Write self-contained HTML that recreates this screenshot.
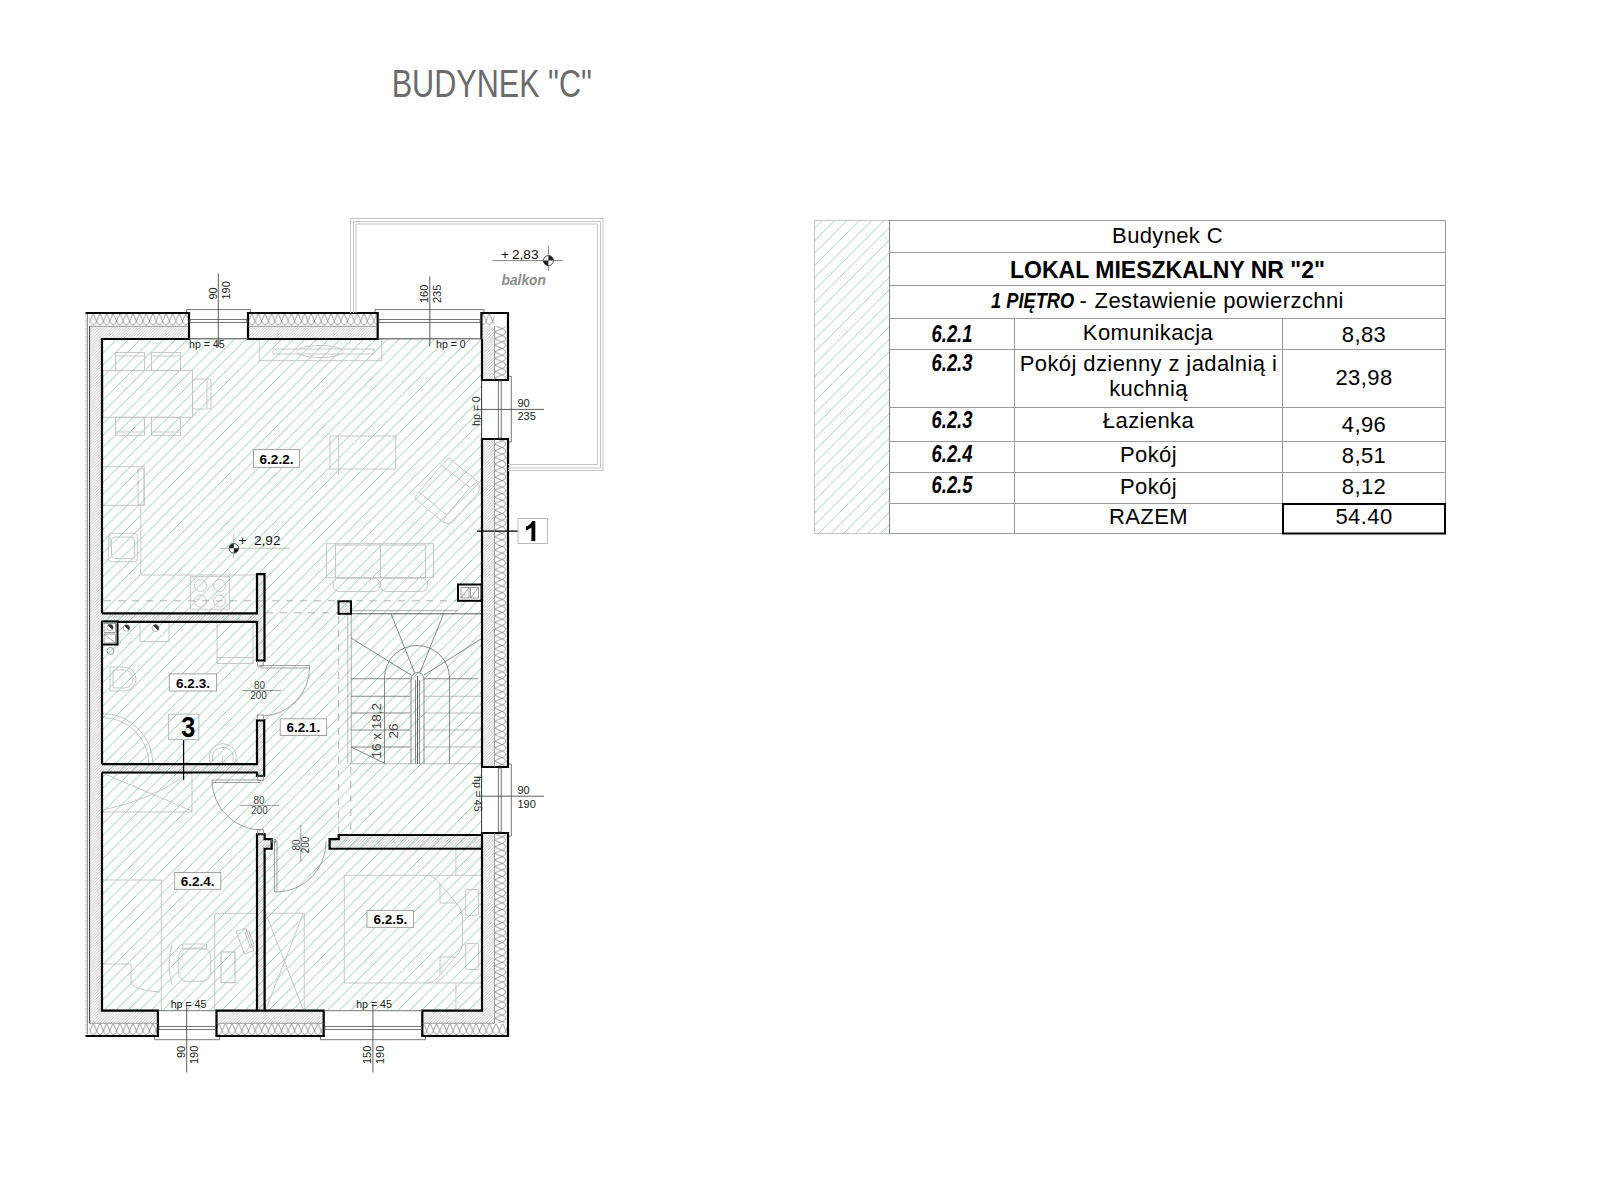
<!DOCTYPE html>
<html><head><meta charset="utf-8">
<style>
html,body{margin:0;padding:0;background:#fff;width:1600px;height:1200px;overflow:hidden}
svg{position:absolute;left:0;top:0;display:block}
text{font-family:"Liberation Sans",sans-serif}
</style></head>
<body>
<svg width="1600" height="1200" viewBox="0 0 1600 1200">
<defs>
<pattern id="hg" patternUnits="userSpaceOnUse" x="9.5" y="0" width="11.755" height="11.755">
<path d="M-1,12.755 L12.755,-1 M-1,1 L1,-1 M10.755,12.755 L12.755,10.755" stroke="#80c89d" stroke-width="0.85" fill="none"/>
</pattern>
<pattern id="hw" patternUnits="userSpaceOnUse" width="2.8" height="2.8">
<path d="M-0.5,3.3 L3.3,-0.5 M-0.5,0.5 L0.5,-0.5 M2.3,3.3 L3.3,2.3" stroke="#999" stroke-width="0.55" fill="none"/>
</pattern>
<pattern id="ht" patternUnits="userSpaceOnUse" x="3.8" y="0" width="12.37" height="12.37">
<path d="M-1,13.37 L13.37,-1 M-1,1 L1,-1 M11.37,13.37 L13.37,11.37" stroke="#86cca2" stroke-width="0.8" fill="none"/>
</pattern>






<pattern id="ins-h" patternUnits="userSpaceOnUse" x="1" y="313.8" width="6.6" height="12.4"><path d="M-6.60,-0.5 L-2.51,9.18 Q0.00,13.00 2.51,9.18 L6.60,-0.5 M0.00,-0.5 L4.09,9.18 Q6.60,13.00 9.11,9.18 L13.20,-0.5" stroke="#707070" stroke-width="0.7" fill="none"/></pattern>
<pattern id="ins-h2" patternUnits="userSpaceOnUse" x="1" y="1023.6" width="6.6" height="12.2"><path d="M-6.60,-0.5 L-2.51,9.03 Q0.00,12.80 2.51,9.03 L6.60,-0.5 M0.00,-0.5 L4.09,9.03 Q6.60,12.80 9.11,9.03 L13.20,-0.5" stroke="#707070" stroke-width="0.7" fill="none"/></pattern>
<pattern id="ins-v" patternUnits="userSpaceOnUse" x="494.8" y="2" width="12.3" height="6.6"><g transform="translate(0,6.6) rotate(-90)"><path d="M-6.60,-0.5 L-2.51,9.10 Q0.00,12.90 2.51,9.10 L6.60,-0.5 M0.00,-0.5 L4.09,9.10 Q6.60,12.90 9.11,9.10 L13.20,-0.5" stroke="#707070" stroke-width="0.7" fill="none"/></g></pattern>
</defs>

<!-- Title -->
<text x="0" y="0" font-size="38.5" fill="#6b6b6b" transform="translate(391.7,96.6) scale(0.795,1)">BUDYNEK "C"</text>

<!-- TABLE -->
<g id="table">
<rect x="815" y="220.5" width="74.5" height="313" fill="url(#ht)"/>
<g stroke="#9a9a9a" stroke-width="1" fill="none">
<path d="M889.5,220.5 H1445.5 V533.5 H889.5"/>
<path d="M889.5,220.5 H814.5 V533.5 H889.5" stroke="#c4c4c4"/>
<line x1="889.5" y1="220" x2="889.5" y2="534" stroke="#808080"/>
<line x1="889" y1="252.5" x2="1446" y2="252.5"/>
<line x1="889" y1="285.5" x2="1446" y2="285.5"/>
<line x1="889" y1="318.5" x2="1446" y2="318.5"/>
<line x1="889" y1="349.5" x2="1446" y2="349.5"/>
<line x1="889" y1="407.5" x2="1446" y2="407.5"/>
<line x1="889" y1="441.5" x2="1446" y2="441.5"/>
<line x1="889" y1="472.5" x2="1446" y2="472.5"/>
<line x1="889" y1="503.5" x2="1446" y2="503.5"/>
<line x1="1014.5" y1="318" x2="1014.5" y2="534"/>
<line x1="1282.5" y1="318" x2="1282.5" y2="534"/>
</g>
<rect x="1283" y="504" width="162" height="29.5" fill="none" stroke="#000" stroke-width="2"/>
<g font-size="22" fill="#000" text-anchor="middle" letter-spacing="0.4">
<text x="1167.5" y="242.5" letter-spacing="0.35">Budynek C</text>
<text x="1167.5" y="277.5" font-weight="bold" font-size="23" letter-spacing="0">LOKAL MIESZKALNY NR "2"</text>
<text x="1148" y="340">Komunikacja</text>
<text x="1148.5" y="370.5">Pokój dzienny z jadalnią i</text>
<text x="1148.5" y="396.3">kuchnią</text>
<text x="1148.5" y="428">Łazienka</text>
<text x="1148.5" y="462.3">Pokój</text>
<text x="1148.5" y="493.8">Pokój</text>
<text x="1148.5" y="524.3">RAZEM</text>
<text x="1364" y="342">8,83</text>
<text x="1364" y="385">23,98</text>
<text x="1364" y="431.5">4,96</text>
<text x="1364" y="463">8,51</text>
<text x="1364" y="493.8">8,12</text>
<text x="1364" y="524.3">54.40</text>
</g>
<g font-size="22" fill="#000">
<text transform="translate(991,307.75) scale(0.83,1)" font-weight="bold" font-style="italic">1 PIĘTRO</text>
<text x="1079.5" y="307.75">-</text>
<text x="1094.6" y="307.75" letter-spacing="0.42">Zestawienie powierzchni</text>
</g>
<g font-size="23" fill="#000" font-weight="bold" font-style="italic" text-anchor="middle">
<text transform="translate(952,342) scale(0.8,1)">6.2.1</text>
<text transform="translate(952,370.5) scale(0.8,1)">6.2.3</text>
<text transform="translate(952,428) scale(0.8,1)">6.2.3</text>
<text transform="translate(952,462.3) scale(0.8,1)">6.2.4</text>
<text transform="translate(952,492.8) scale(0.8,1)">6.2.5</text>
</g>
</g>

<!-- PLAN -->
<g id="plan">
<!-- building mass with wall hatch -->
<rect x="86" y="313" width="422" height="723" fill="#fff"/>
<rect x="89.5" y="313" width="418.5" height="723" fill="url(#hw)"/>
<!-- interior floor -->
<rect x="102" y="339" width="380" height="671.7" fill="#fff"/>
<rect x="102" y="339" width="380" height="671.7" fill="url(#hg)"/>
<!-- DASHED LINES -->
<g stroke="#a0a0a0" stroke-width="0.8" fill="none" stroke-dasharray="7,7">
<line x1="104" y1="600.8" x2="458" y2="600.8"/>
<line x1="266" y1="612.8" x2="338" y2="612.8"/>
<line x1="338.6" y1="616" x2="338.6" y2="834"/>
<line x1="350.8" y1="767" x2="350.8" y2="834"/>
</g>

<!-- FURNITURE light -->
<g stroke="#c2c2c2" stroke-width="0.9" fill="none">
<!-- dining -->
<rect x="103" y="370.6" width="89.5" height="46.7"/>
<rect x="115.5" y="352.5" width="29" height="18"/><line x1="116" y1="356" x2="144" y2="356"/>
<rect x="151.5" y="352.5" width="29" height="18"/><line x1="152" y1="356" x2="180" y2="356"/>
<rect x="115.5" y="417.3" width="29" height="18"/><line x1="116" y1="432" x2="144" y2="432"/>
<rect x="151.5" y="417.3" width="29" height="18"/><line x1="152" y1="432" x2="180" y2="432"/>
<rect x="192.5" y="379" width="18.5" height="30" rx="2"/><line x1="207" y1="380" x2="207" y2="408"/>
<!-- sideboard / TV -->
<rect x="259.3" y="339.7" width="122.5" height="21"/>
<rect x="273" y="349" width="101" height="5"/>
<ellipse cx="320" cy="351.5" rx="23" ry="6"/>
<!-- coffee table -->
<rect x="330" y="436" width="65.8" height="33"/>
<line x1="338.6" y1="436" x2="338.6" y2="475"/>
<!-- armchair rotated -->
<path d="M419,492 L441.5,465 L470,487.5 L446.7,515 Z"/>
<path d="M441.5,465 L449,458 L477.5,481.5 L470,487.5"/>
<path d="M419,492 L414.5,498 L443,522 L446.7,515"/>
<path d="M477.5,481.5 Q481,487 478,493 L452,522.5 Q448,525 443,522"/>
<!-- sofa -->
<rect x="326.5" y="543.7" width="107" height="34"/>
<rect x="335.5" y="545" width="45" height="33"/>
<rect x="380.5" y="545" width="45" height="33"/>
<rect x="333" y="578" width="47" height="13.5" rx="6"/>
<rect x="380.5" y="578" width="47" height="13.5" rx="6"/>
<!-- kitchen -->
<rect x="102.5" y="466.7" width="41.7" height="38.6"/>
<rect x="138" y="469" width="6" height="36"/>
<polyline points="140.8,505.3 140.8,575 255.8,575"/>
<rect x="108.3" y="533.3" width="29.2" height="28.4" rx="3"/>
<rect x="111.5" y="537" width="23" height="21.5" rx="3"/>
<line x1="110" y1="534" x2="110" y2="545"/>
<rect x="190.3" y="576.7" width="39.2" height="32.5"/>
<circle cx="200.5" cy="585.5" r="6"/><circle cx="219.5" cy="585.5" r="6"/>
<circle cx="200.5" cy="601" r="6"/><circle cx="219.5" cy="601" r="6"/>
<!-- bathroom -->
<rect x="217" y="622" width="36" height="41.5"/>
<line x1="217" y1="657.5" x2="253" y2="657.5"/>
<rect x="140" y="622.5" width="29" height="19"/>
<path d="M110,667 H124 A12,12 0 0 1 124,691 H110 Z"/>
<path d="M113,670 H124 A9,9 0 0 1 124,688 H113 Z"/>
<path d="M102,713.5 A51,51 0 0 1 153,764"/>
<path d="M102,717.5 A47,47 0 0 1 149,764"/>
<path d="M209.5,764 V755 A13.3,11.3 0 0 1 236.1,755 V764"/><path d="M212.5,762 V756 A10.3,8.5 0 0 1 233.1,756 V762"/><path d="M222.7,756 V764 M219,762 H226.5"/>
<rect x="120" y="634" width="11" height="9" stroke-dasharray="1.5,1.5"/>
<!-- 6.2.4 -->
<rect x="102.5" y="773.5" width="89.5" height="38.5"/>
<path d="M105,774 L192,811 M103,810 Q150,800 183,777"/>
<rect x="102.5" y="880" width="58.8" height="130"/>
<path d="M103,964 H131 V983 Q134,990 160,992"/>
<rect x="214.7" y="913.3" width="42" height="97"/>
<rect x="178.7" y="948" width="32" height="33.3" rx="8"/>
<rect x="182.7" y="944" width="24" height="5" rx="1"/>
<path d="M172,945 Q166,965 172,985"/>
<rect x="221" y="952" width="14" height="30.7" stroke="#b0b0b0"/>
<g transform="translate(245,941) rotate(-20)"><rect x="-5" y="-12" width="10" height="24"/><rect x="3" y="-8" width="4" height="16"/></g>
<!-- 6.2.5 -->
<path d="M344.3,875.3 H427 Q434,875.5 440,884 L456,903 Q462.5,910 462.5,918 V942 Q462.5,950 456,956 L440,975 Q434,983 427,983 H344.3 Z"/>
<path d="M427,875.3 H482 M427,983 H482"/>
<path d="M440,884 V903 H456 M440,975 V957 H456"/>
<rect x="465.6" y="889.4" width="13" height="26" rx="1.5"/>
<rect x="465.6" y="943.5" width="13" height="26" rx="1.5"/>
<line x1="455.9" y1="848.5" x2="455.9" y2="875.3"/>
<line x1="455.9" y1="983" x2="455.9" y2="1010"/>
<rect x="265.5" y="913.2" width="38.7" height="97"/>
<path d="M266,914 L303,1009 M303,914 L266,1009"/>
</g>

<!-- STAIRS -->
<g stroke="#6a6a6a" stroke-width="0.8" fill="none">
<line x1="351" y1="613.8" x2="481" y2="613.8" stroke="#333"/>
<line x1="351" y1="610.6" x2="458" y2="610.6" stroke="#999"/>
<line x1="347.8" y1="613.8" x2="347.8" y2="763.75" stroke="#aaa"/>
<line x1="351.3" y1="613.8" x2="351.3" y2="763.75" stroke="#999"/>
<line x1="348.75" y1="763.75" x2="481" y2="763.75" stroke="#aaa"/>
<line x1="351" y1="678.75" x2="410" y2="678.75"/>
<line x1="351" y1="696.25" x2="410" y2="696.25"/>
<line x1="351" y1="713" x2="410" y2="713"/>
<line x1="351" y1="730" x2="410" y2="730"/>
<line x1="351" y1="747" x2="410" y2="747"/>
<line x1="424" y1="678.75" x2="478" y2="678.75"/>
<line x1="424" y1="696.25" x2="481" y2="696.25" stroke="#aaa"/>
<line x1="424" y1="713" x2="481" y2="713" stroke="#aaa"/>
<line x1="424" y1="730" x2="481" y2="730" stroke="#aaa"/>
<line x1="424" y1="747" x2="481" y2="747" stroke="#aaa"/>
<path d="M384.5,763.75 V678 A32.5,32.5 0 0 1 449.5,678 V763.75"/>
<path d="M411,763.75 V679 A6.5,6.5 0 0 1 424,679 V763.75"/>
<line x1="415.5" y1="680" x2="415.5" y2="763.75"/>
<line x1="419.5" y1="680" x2="419.5" y2="763.75"/>
<line x1="417.5" y1="676" x2="417.5" y2="763.75" stroke="#333"/>
<line x1="351" y1="638" x2="411" y2="675"/>
<line x1="391" y1="613.8" x2="414.5" y2="672.5"/>
<line x1="443.5" y1="613.8" x2="420" y2="672.5"/>
<line x1="481" y1="639" x2="424" y2="675"/>
<path d="M351,747 L384,763"/>
</g>
<!-- insulation bands -->
<rect x="89.5" y="313" width="418.5" height="13.3" fill="#fff"/>
<rect x="89.5" y="313" width="418.5" height="13.3" fill="url(#ins-h)"/>
<rect x="494.5" y="313" width="13.5" height="723" fill="#fff"/>
<rect x="494.5" y="326" width="13.5" height="697" fill="url(#ins-v)"/>
<rect x="89.5" y="1023.3" width="418.5" height="12.7" fill="#fff"/>
<rect x="89.5" y="1023.3" width="418.5" height="12.7" fill="url(#ins-h2)"/>
<!-- window openings -->
<g fill="#fff">
<rect x="189" y="305" width="59" height="34"/>
<rect x="377.7" y="305" width="103.7" height="34"/>
<rect x="482" y="380" width="35" height="59"/>
<rect x="482" y="767" width="35" height="66"/>
<rect x="157.9" y="1010.7" width="58.6" height="34"/>
<rect x="323.7" y="1010.7" width="98.6" height="34"/>
</g>
<!-- interior walls -->
<g fill="url(#hw)" stroke="#000" stroke-width="2.2" stroke-linejoin="miter">
<path d="M102,613.3 H257 V574.2 H264.5 V660.7 H257 V621.8 H102"/>
<path d="M102,764.2 H257 V720.3 H264.2 V775.8 H257 V772.5 H102"/>
<path d="M257,1010.7 V834.2 H264.6 V839.2 H271.7 V848.75 H264.6 V1010.7"/>
<path d="M482,835 H338.75 V839.2 H329.6 V848.75 H482"/>
</g>
<!-- exterior outlines -->
<g fill="none" stroke="#000" stroke-width="2.2" stroke-linejoin="miter">
<path d="M85.5,313 H189 V339 H102 V613.3"/>
<path d="M102,621.8 V764.2 M102,772.5 V1010.7 H157.9 V1036 H85.5"/>
<path d="M248,339 V313 H377.7 V339 Z"/>
<path d="M481.4,339 V313 H508 V380 H482 V339"/>
<path d="M482,439 H508 V767 H482 Z"/>
<path d="M482,833 H508 V1036 H422.3 V1010.7 H482 Z"/>
<path d="M216.5,1010.7 H323.7 V1036 H216.5 Z"/>
</g>
<!-- left party wall thin lines -->
<g fill="none">
<line x1="87.3" y1="314" x2="87.3" y2="1034" stroke="#555" stroke-width="0.8"/>
<line x1="89.6" y1="326" x2="89.6" y2="1023.5" stroke="#222" stroke-width="0.9"/>
</g>
<line x1="85.8" y1="314" x2="85.8" y2="1035" stroke="#bbb" stroke-width="0.8" stroke-dasharray="1,1"/>

<!-- WINDOW FRAMES -->
<g stroke="#555" stroke-width="0.8" fill="none">
<!-- top window 1 -->
<path d="M186.5,312 V309.6 H250.5 V312"/>
<rect x="190" y="319.6" width="57" height="2.9"/>
<line x1="189" y1="338.8" x2="248" y2="338.8" stroke="#444" stroke-width="1"/>
<!-- top window 2 -->
<path d="M375,312 V309.6 H484 V312"/>
<rect x="379" y="319.6" width="101" height="2.9"/>
<line x1="377.7" y1="338.8" x2="481.4" y2="338.8" stroke="#444" stroke-width="1"/>
<!-- right window 1 -->
<path d="M509,376.4 H511.3 V442 H509"/>
<rect x="498.3" y="381" width="2.9" height="57"/>
<line x1="481.6" y1="380" x2="481.6" y2="439" stroke="#333" stroke-width="1"/>
<!-- right window 2 -->
<path d="M509,764 H511.3 V836 H509"/>
<rect x="498.3" y="768" width="2.9" height="64"/>
<line x1="481.6" y1="767" x2="481.6" y2="833" stroke="#333" stroke-width="1"/>
<!-- bottom window 1 -->
<path d="M154.4,1037 V1039.7 H219.6 V1037"/>
<rect x="159" y="1026.4" width="56.5" height="3"/>
<line x1="157.9" y1="1010.7" x2="216.5" y2="1010.7"/>
<!-- bottom window 2 -->
<path d="M320.5,1037 V1039.7 H425.5 V1037"/>
<rect x="325" y="1026.4" width="96.5" height="3"/>
<line x1="323.7" y1="1010.7" x2="422.3" y2="1010.7"/>
</g>

<!-- BALCONY -->
<g stroke="#c4c4c4" stroke-width="1" fill="none">
<path d="M350.5,313 V218.5 H603 V470.5 H508"/>
<path d="M353.5,313 V221.5 H600.5 V468 H508"/>
<path d="M356,313 V224 H597.5 V464.5 H508"/>
</g>

<!-- DIMENSIONS -->
<g stroke="#333" stroke-width="0.8" fill="none">
<line x1="218.3" y1="273.5" x2="218.3" y2="347"/>
<line x1="429.8" y1="276.5" x2="429.8" y2="346.5"/>
<line x1="475.5" y1="409.4" x2="544" y2="409.4"/>
<line x1="477" y1="796.2" x2="544" y2="796.2"/>
<line x1="186.7" y1="1003" x2="186.7" y2="1072.5"/>
<line x1="372.9" y1="1004" x2="372.9" y2="1072.5"/>
</g>
<g font-size="11" fill="#222">
<text transform="translate(216.5,299.5) rotate(-90)">90</text>
<text transform="translate(229.5,299.5) rotate(-90)">190</text>
<text transform="translate(427.5,303) rotate(-90)">160</text>
<text transform="translate(440.5,303) rotate(-90)">235</text>
<text x="517.5" y="407">90</text>
<text x="517.5" y="420">235</text>
<text x="517.5" y="794">90</text>
<text x="517.5" y="808">190</text>
<text transform="translate(184.5,1058) rotate(-90)">90</text>
<text transform="translate(197.5,1064) rotate(-90)">190</text>
<text transform="translate(371,1064) rotate(-90)">150</text>
<text transform="translate(384,1064) rotate(-90)">190</text>
</g>
<g font-size="10.6" fill="#222">
<text x="189" y="347.5">hp = 45</text>
<text x="436" y="347.5">hp = 0</text>
<text x="170.7" y="1007.5">hp = 45</text>
<text x="356.2" y="1008">hp = 45</text>
<text transform="translate(479.5,426) rotate(-90)">hp = 0</text>
<text transform="translate(474,776) rotate(90)">hp = 45</text>
</g>

<!-- SECTION MARKERS -->
<line x1="477" y1="531.2" x2="518" y2="531.2" stroke="#000" stroke-width="1.2"/>
<rect x="518" y="518.5" width="29.5" height="25" fill="#fff" stroke="#bbb" stroke-width="1"/>
<path d="M535.3,521 V541 H531.4 V527.6 Q529,529.6 526,530.4 V526.6 Q530.2,525.2 532.2,521 Z" fill="#000"/>
<line x1="183.6" y1="739.5" x2="183.6" y2="780" stroke="#000" stroke-width="1.2"/>
<rect x="168.6" y="714.2" width="30.2" height="25.3" fill="none" stroke="#bbb" stroke-width="1"/>
<text font-size="29.5" font-weight="bold" text-anchor="middle" fill="#000" transform="translate(188.3,736.6) scale(0.86,1)">3</text>


<!-- SEPARATOR LINES in walls -->
<g stroke="#777" stroke-width="0.7">
<line x1="89.5" y1="326.3" x2="189" y2="326.3"/>
<line x1="248" y1="326.3" x2="377.7" y2="326.3"/>
<line x1="494.5" y1="326.3" x2="494.5" y2="380"/>
<line x1="494.5" y1="439" x2="494.5" y2="767"/>
<line x1="494.5" y1="833" x2="494.5" y2="1023.3"/>
<line x1="89.5" y1="1023.3" x2="157.9" y2="1023.3"/>
<line x1="216.5" y1="1023.3" x2="323.7" y2="1023.3"/>
<line x1="422.3" y1="1023.3" x2="494.5" y2="1023.3"/>
</g>

<!-- DOORS -->
<g stroke="#8a8a8a" stroke-width="0.8" fill="none">
<rect x="257.5" y="661.5" width="6" height="4.5"/>
<rect x="257.5" y="715" width="6" height="4.5"/>
<rect x="261" y="665.5" width="48.5" height="2.5"/>
<path d="M309.5,668 A48,48 0 0 1 263.5,716"/>
<rect x="257.5" y="776" width="6" height="4.5"/>
<rect x="257.5" y="829.5" width="6" height="4.5"/>
<rect x="212" y="780" width="48" height="2.5"/>
<path d="M212,782.5 A50,50 0 0 0 261,830"/>
<rect x="274.5" y="841" width="2.5" height="51"/>
<path d="M277,892 A50,50 0 0 0 326,841.5"/>
<rect x="271.7" y="839.2" width="4" height="3" />
</g>
<g stroke="#777" stroke-width="0.7">
<line x1="242" y1="690.5" x2="281" y2="690.5"/>
<line x1="240" y1="805.4" x2="279" y2="805.4"/>
<line x1="300.8" y1="825" x2="300.8" y2="862"/>
</g>
<g font-size="10" fill="#444" text-anchor="middle">
<text x="259.5" y="689">80</text>
<text x="258.5" y="698.5">200</text>
<text x="259" y="804">80</text>
<text x="259.4" y="813.5">200</text>
<text transform="translate(300,845) rotate(-90)">80</text>
<text transform="translate(309,845) rotate(-90)">200</text>
</g>

<rect x="338.5" y="601.3" width="12.5" height="12.5" fill="url(#hw)" stroke="#000" stroke-width="2"/>
<rect x="458" y="584.5" width="23.5" height="16.3" fill="#fff" stroke="#000" stroke-width="2"/>
<g stroke="#777" stroke-width="0.7" fill="none">
<rect x="461" y="587.5" width="8" height="10.5"/><rect x="470.5" y="587.5" width="8" height="10.5"/>
<line x1="461" y1="598" x2="469" y2="587.5"/><line x1="470.5" y1="598" x2="478.5" y2="587.5"/>
</g>
<g font-size="13.5" fill="#444">
<text transform="translate(381,758.5) rotate(-90)">16 x 18,2</text>
<text transform="translate(397.5,738.5) rotate(-90)">26</text>
</g>

<!-- SHAFT in bathroom -->
<rect x="102" y="621.5" width="15.5" height="23" fill="#fff" stroke="#000" stroke-width="2"/>
<g stroke="#777" stroke-width="0.7" fill="none">
<rect x="104" y="623.5" width="11.5" height="9"/><rect x="104" y="634" width="11.5" height="9"/>
<line x1="104" y1="634" x2="115.5" y2="643"/>
<circle cx="110.5" cy="651" r="3.5"/>
</g>
<g><circle cx="110" cy="627.5" r="3.2" fill="#fff" stroke="#999" stroke-width="0.7"/><path d="M107.74,625.24 A3.2,3.2 0 0 1 112.26,629.76 Z" fill="#333"/><circle cx="126.5" cy="628" r="3.2" fill="#fff" stroke="#999" stroke-width="0.7"/><path d="M124.24,625.74 A3.2,3.2 0 0 1 128.76,630.26 Z" fill="#333"/><circle cx="155.5" cy="628" r="3.5" fill="#fff" stroke="#999" stroke-width="0.7"/><path d="M153.03,625.53 A3.5,3.5 0 0 1 157.97,630.47 Z" fill="#333"/></g>

<!-- ELEVATION MARKS -->
<g stroke="#555" stroke-width="0.7" fill="none">
<line x1="219.5" y1="548.3" x2="290" y2="548.3" stroke="#aaa"/>
<line x1="233.8" y1="533.5" x2="233.8" y2="558.5" stroke="#aaa"/>
<line x1="492.5" y1="260.6" x2="562.6" y2="260.6"/>
<line x1="548.4" y1="245.7" x2="548.4" y2="271"/>
</g>
<g>
<circle cx="233.8" cy="548.3" r="4.8" fill="#fff" stroke="#333" stroke-width="0.8"/>
<path d="M233.8,548.3 V543.5 A4.8,4.8 0 0 0 229,548.3 Z M233.8,548.3 V553.1 A4.8,4.8 0 0 0 238.6,548.3 Z" fill="#222"/>
<circle cx="548.4" cy="260.6" r="5" fill="#fff" stroke="#333" stroke-width="0.8"/>
<path d="M548.4,260.6 V255.6 A5,5 0 0 1 553.4,260.6 Z M548.4,260.6 V265.6 A5,5 0 0 1 543.4,260.6 Z" fill="#222"/>
</g>
<g font-size="13.6" fill="#111">
<text x="238.5" y="545">+</text>
<text x="254" y="545.25">2,92</text>
<text x="501" y="258.75">+</text>
<text x="512" y="258.75">2,83</text>
</g>
<text x="501.5" y="284.8" font-size="13.8" font-weight="bold" font-style="italic" fill="#8c8c8c">balkon</text>

<!-- ROOM LABELS -->
<g fill="#fff" stroke="#999" stroke-width="0.9">
<rect x="253.5" y="449.4" width="45.9" height="17.9"/>
<rect x="169.3" y="673.9" width="47.3" height="17.1"/>
<rect x="280.2" y="718.8" width="46.4" height="16.7"/>
<rect x="174.7" y="872.5" width="46.1" height="16.8"/>
<rect x="367" y="910.4" width="46.6" height="16.9"/>
</g>
<g font-size="13.5" font-weight="bold" fill="#000" text-anchor="middle">
<text x="276.5" y="463.5">6.2.2.</text>
<text x="193" y="687.5">6.2.3.</text>
<text x="303.4" y="732">6.2.1.</text>
<text x="197.7" y="886">6.2.4.</text>
<text x="390.3" y="924">6.2.5.</text>
</g>
</g>

</svg>
</body></html>
